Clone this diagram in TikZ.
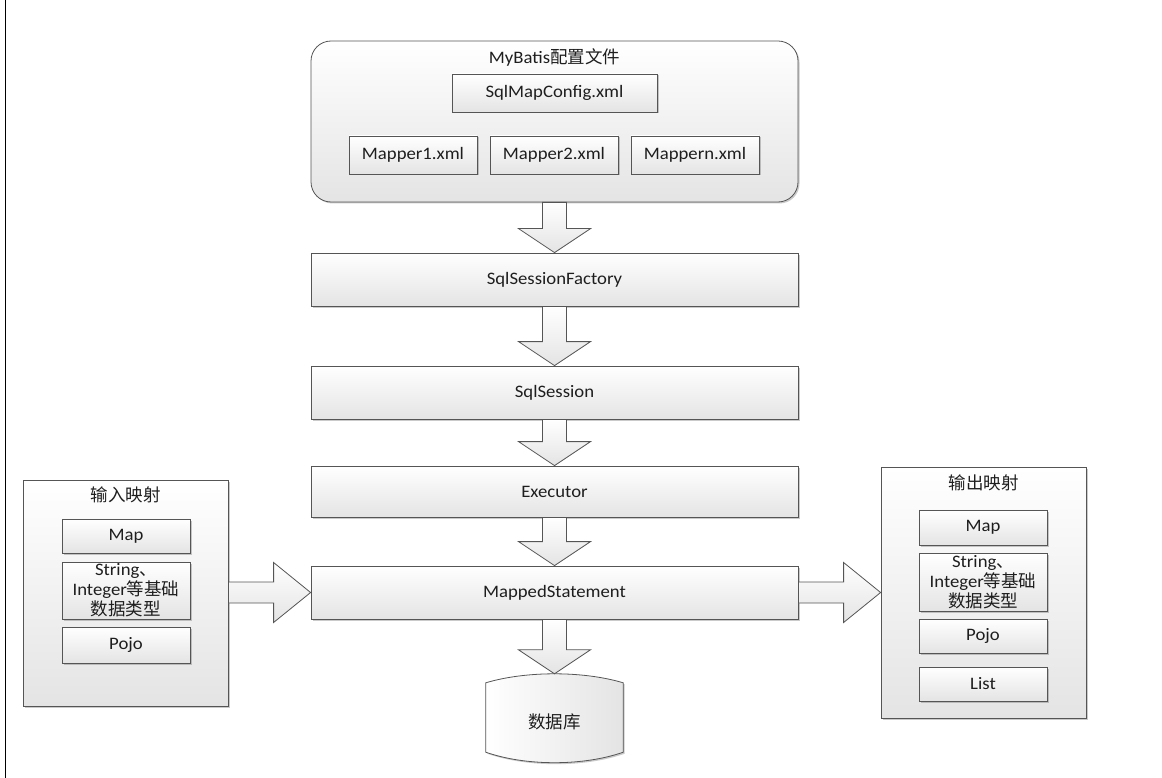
\documentclass[tikz,border=0pt]{standalone}
\usepackage{fontspec}
\setmainfont[FakeStretch=1.07]{Carlito}
\newfontfamily\cjk{Noto Sans CJK SC}
\usetikzlibrary{calc,shadows}
\definecolor{boxline}{RGB}{85,85,85}
\definecolor{boxbottom}{RGB}{228,228,228}
\definecolor{txt}{RGB}{30,30,30}
\newcommand{\downblock}[2]{%
  \path[blk] let \p1=(#1.south), \p2=(#2.north) in
    (\x1-12pt,\y1) -- (\x1-12pt,\y2+24pt) -- (\x1-36pt,\y2+24pt) -- (\x1,\y2)
    -- (\x1+36pt,\y2+24pt) -- (\x1+12pt,\y2+24pt) -- (\x1+12pt,\y1) -- cycle;}
\newcommand{\rightblock}[2]{%
  \path[blk] let \p1=(#1.east), \p2=(#2.west) in
    (\x1,\y2+10.5pt) -- (\x2-37pt,\y2+10.5pt) -- (\x2-37pt,\y2+30pt) -- (\x2,\y2)
    -- (\x2-37pt,\y2-30pt) -- (\x2-37pt,\y2-10.5pt) -- (\x1,\y2-10.5pt) -- cycle;}
\begin{document}
\begin{tikzpicture}[x=1pt,y=-1pt,
  shad/.style={drop shadow={shadow xshift=1.5pt,shadow yshift=-1.5pt,opacity=0.35,fill=black!60}},
  box/.style={draw=boxline,line width=0.8pt,top color=white,bottom color=boxbottom,shad,
    inner sep=0pt,text=txt,font=\fontsize{17.5}{20}\selectfont,align=center},
  blk/.style={draw=boxline,line width=0.8pt,top color=white,bottom color=boxbottom},
  lbl/.style={text=txt,font=\fontsize{17.5}{20}\selectfont,inner sep=0pt}]
\useasboundingbox (0,0) rectangle (1162,778);
\draw[line width=1.3pt] (5.5,0) -- (5.5,778);

% top configuration group
\node[box,rounded corners=20pt,minimum width=487pt,minimum height=161pt] (cfg) at (554.5,121.5) {};
\node[lbl] (cfgtitle) at (554.5,58) {MyBatis{\cjk 配置文件}};
\node[box,minimum width=205pt,minimum height=38pt] (smc) at (554.5,93) {SqlMapConfig.xml};
\node[box,minimum width=128pt,minimum height=38pt] (m1) at (413,155) {Mapper1.xml};
\node[box,minimum width=128pt,minimum height=38pt] (m2) at (554,155) {Mapper2.xml};
\node[box,minimum width=128pt,minimum height=38pt] (mn) at (695,155) {Mappern.xml};

% main chain
\node[box,minimum width=487pt,minimum height=53pt] (ssf) at (554.5,279.5) {SqlSessionFactory};
\node[box,minimum width=487pt,minimum height=53pt] (ss) at (554.5,392.5) {SqlSession};
\node[box,minimum width=487pt,minimum height=51pt] (ex) at (554.5,491.5) {Executor};
\node[box,minimum width=487pt,minimum height=53pt] (ms) at (554.5,592.5) {MappedStatement};

% database
\node[minimum width=137pt,minimum height=89pt,inner sep=0pt] (db) at (554.5,718.5) {};
\path[draw=boxline,line width=0.8pt,left color=white,right color=boxbottom,shad]
  ($(db.north west)+(0,9)$) .. controls ($(db.north west)+(40,-3)$) and ($(db.north east)+(-40,-3)$) .. ($(db.north east)+(0,9)$)
  -- ($(db.south east)+(0,-11)$) .. controls ($(db.south east)+(-40,3)$) and ($(db.south west)+(40,3)$) .. ($(db.south west)+(0,-11)$)
  -- cycle;
\node[lbl] (dbtext) at (554.5,722) {\cjk 数据库};

% input mapping
\node[box,minimum width=205pt,minimum height=226pt] (inp) at (125.5,593) {};
\node[lbl] (inptitle) at (125.5,495) {\cjk 输入映射};
\node[box,minimum width=128pt,minimum height=34pt] (imap) at (126,536) {Map};
\node[box,minimum width=128pt,minimum height=57pt] (istr) at (126,590.5) {String{\cjk 、}\\Integer{\cjk 等基础}\\{\cjk 数据类型}};
\node[box,minimum width=128pt,minimum height=36pt] (ipojo) at (126,645) {Pojo};

% output mapping
\node[box,minimum width=205pt,minimum height=251pt] (outp) at (983.5,592.5) {};
\node[lbl] (outtitle) at (983.5,483) {\cjk 输出映射};
\node[box,minimum width=128pt,minimum height=35pt] (omap) at (983,527.5) {Map};
\node[box,minimum width=128pt,minimum height=58pt] (ostr) at (983,582) {String{\cjk 、}\\Integer{\cjk 等基础}\\{\cjk 数据类型}};
\node[box,minimum width=128pt,minimum height=34pt] (opojo) at (983,636) {Pojo};
\node[box,minimum width=128pt,minimum height=34pt] (olist) at (983,684) {List};

% block arrows
\downblock{cfg}{ssf}
\downblock{ssf}{ss}
\downblock{ss}{ex}
\downblock{ex}{ms}
\downblock{ms}{db}
\rightblock{inp}{ms}
\rightblock{ms}{outp}
\end{tikzpicture}
\end{document}
